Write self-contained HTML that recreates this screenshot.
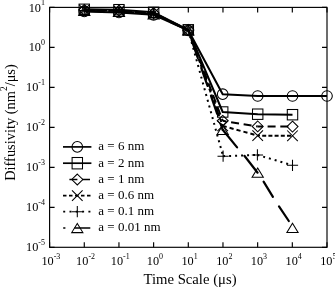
<!DOCTYPE html>
<html><head><meta charset="utf-8"><style>
html,body{margin:0;padding:0;background:#fff;}
body{width:335px;height:287px;overflow:hidden;}
svg{display:block;filter:blur(0.25px);}
text{font-family:"Liberation Serif",serif;fill:#000;}
.m{fill:none;stroke:#000;stroke-width:1.05;}
.ln{fill:none;stroke:#000;stroke-width:2.0;stroke-linejoin:round;}
.rc{stroke-linecap:round;stroke-width:2.2;}
.ax{fill:none;stroke:#000;stroke-width:1.15;}
</style></head><body>
<svg width="335" height="287" viewBox="0 0 335 287">

<rect x="49.6" y="7.4" width="277.40" height="239.90" class="ax"/>
<path d="M49.60 247.3v-5M49.60 7.4v5M84.28 247.3v-5M84.28 7.4v5M118.95 247.3v-5M118.95 7.4v5M153.62 247.3v-5M153.62 7.4v5M188.30 247.3v-5M188.30 7.4v5M222.97 247.3v-5M222.97 7.4v5M257.65 247.3v-5M257.65 7.4v5M292.32 247.3v-5M292.32 7.4v5M327.00 247.3v-5M327.00 7.4v5M49.6 247.30h5M327.0 247.30h-5M49.6 207.32h5M327.0 207.32h-5M49.6 167.33h5M327.0 167.33h-5M49.6 127.35h5M327.0 127.35h-5M49.6 87.37h5M327.0 87.37h-5M49.6 47.38h5M327.0 47.38h-5M49.6 7.40h5M327.0 7.40h-5" class="ax"/>
<text transform="translate(50.90,265.0) scale(1,1.07)" font-size="12.3" text-anchor="middle">10<tspan font-size="8" dy="-6.0">-3</tspan></text>
<text transform="translate(85.58,265.0) scale(1,1.07)" font-size="12.3" text-anchor="middle">10<tspan font-size="8" dy="-6.0">-2</tspan></text>
<text transform="translate(120.25,265.0) scale(1,1.07)" font-size="12.3" text-anchor="middle">10<tspan font-size="8" dy="-6.0">-1</tspan></text>
<text transform="translate(154.93,265.0) scale(1,1.07)" font-size="12.3" text-anchor="middle">10<tspan font-size="8" dy="-6.0">0</tspan></text>
<text transform="translate(189.60,265.0) scale(1,1.07)" font-size="12.3" text-anchor="middle">10<tspan font-size="8" dy="-6.0">1</tspan></text>
<text transform="translate(224.28,265.0) scale(1,1.07)" font-size="12.3" text-anchor="middle">10<tspan font-size="8" dy="-6.0">2</tspan></text>
<text transform="translate(258.95,265.0) scale(1,1.07)" font-size="12.3" text-anchor="middle">10<tspan font-size="8" dy="-6.0">3</tspan></text>
<text transform="translate(293.62,265.0) scale(1,1.07)" font-size="12.3" text-anchor="middle">10<tspan font-size="8" dy="-6.0">4</tspan></text>
<text transform="translate(328.30,265.0) scale(1,1.07)" font-size="12.3" text-anchor="middle">10<tspan font-size="8" dy="-6.0">5</tspan></text>
<text transform="translate(45.0,251.40) scale(1,1.08)" font-size="12.3" text-anchor="end">10<tspan font-size="8" dy="-5.6">-5</tspan></text>
<text transform="translate(45.0,211.42) scale(1,1.08)" font-size="12.3" text-anchor="end">10<tspan font-size="8" dy="-5.6">-4</tspan></text>
<text transform="translate(45.0,171.43) scale(1,1.08)" font-size="12.3" text-anchor="end">10<tspan font-size="8" dy="-5.6">-3</tspan></text>
<text transform="translate(45.0,131.45) scale(1,1.08)" font-size="12.3" text-anchor="end">10<tspan font-size="8" dy="-5.6">-2</tspan></text>
<text transform="translate(45.0,91.47) scale(1,1.08)" font-size="12.3" text-anchor="end">10<tspan font-size="8" dy="-5.6">-1</tspan></text>
<text transform="translate(45.0,51.48) scale(1,1.08)" font-size="12.3" text-anchor="end">10<tspan font-size="8" dy="-5.6">0</tspan></text>
<text transform="translate(45.0,11.50) scale(1,1.08)" font-size="12.3" text-anchor="end">10<tspan font-size="8" dy="-5.6">1</tspan></text>
<text transform="translate(143.5,284.1) scale(1,1.05)" font-size="14.7">Time Scale (μs)</text>
<text transform="translate(14.6,180.8) rotate(-90)" font-size="14.4">Diffusivity (nm<tspan font-size="9.5" dy="-7.5">2</tspan><tspan dy="7.5">/μs)</tspan></text>
<polyline points="84.28,10.80 118.95,11.80 153.62,14.30 188.30,30.40 222.70,129.80" class="ln rc" stroke-dasharray="19 10.5"/>
<path d="M222.70 129.80L237.10 147.40M244.40 155.80L257.60 172.70M263.60 181.60L272.90 196.90M279.00 206.40L288.80 221.00" class="ln rc"/>
<polyline points="84.28,10.40 118.95,11.30 153.62,13.80 188.30,30.20 223.10,156.20" class="ln" stroke-dasharray="2 4"/>
<line x1="223.10" y1="156.20" x2="257.40" y2="154.90" class="ln" stroke-dasharray="2 4" stroke-dashoffset="0.0"/>
<line x1="257.40" y1="154.90" x2="292.50" y2="165.30" class="ln" stroke-dasharray="2 4" stroke-dashoffset="0.0"/>
<polyline points="84.28,10.00 118.95,10.90 153.62,13.30 188.30,30.10 222.70,125.90" class="ln" stroke-dasharray="4 2.3"/>
<line x1="222.70" y1="125.90" x2="257.70" y2="135.60" class="ln" stroke-dasharray="4.2 3.0" stroke-dashoffset="0.1"/>
<line x1="257.70" y1="135.60" x2="292.50" y2="135.80" class="ln" stroke-dasharray="4 2.2" stroke-dashoffset="1.7"/>
<polyline points="84.28,9.80 118.95,10.60 153.62,13.00 188.30,30.00 222.70,120.80" class="ln" stroke-dasharray="8 4.7"/>
<line x1="222.70" y1="120.80" x2="257.70" y2="126.40" class="ln" stroke-dasharray="8 4.7" stroke-dashoffset="4.2"/>
<line x1="257.70" y1="126.40" x2="292.50" y2="126.60" class="ln" stroke-dasharray="8 4.7" stroke-dashoffset="2.8"/>
<polyline points="84.28,9.30 118.95,9.70 153.62,12.30 188.30,29.80 222.70,112.00 257.70,114.20 292.50,114.70" class="ln"/>
<polyline points="84.28,11.40 118.95,12.50 153.62,14.80 188.30,30.30 222.70,94.20 257.70,96.00 292.50,96.00 327.00,96.00" class="ln"/>
<path d="M84.28 6.20L89.88 15.40L78.68 15.40Z" class="m"/>
<path d="M118.95 7.20L124.55 16.40L113.35 16.40Z" class="m"/>
<path d="M153.62 9.70L159.22 18.90L148.03 18.90Z" class="m"/>
<path d="M188.30 25.80L193.90 35.00L182.70 35.00Z" class="m"/>
<path d="M222.70 125.20L228.30 134.40L217.10 134.40Z" class="m"/>
<path d="M257.70 168.10L263.30 177.30L252.10 177.30Z" class="m"/>
<path d="M292.50 223.20L298.10 232.40L286.90 232.40Z" class="m"/>
<path d="M78.68 10.40H89.88M84.28 4.80V16.00" class="m"/>
<path d="M113.35 11.30H124.55M118.95 5.70V16.90" class="m"/>
<path d="M148.03 13.80H159.22M153.62 8.20V19.40" class="m"/>
<path d="M182.70 30.20H193.90M188.30 24.60V35.80" class="m"/>
<path d="M217.50 156.20H228.70M223.10 150.60V161.80" class="m"/>
<path d="M251.80 154.90H263.00M257.40 149.30V160.50" class="m"/>
<path d="M286.90 165.30H298.10M292.50 159.70V170.90" class="m"/>
<path d="M78.98 4.70L89.58 15.30M89.58 4.70L78.98 15.30" class="m"/>
<path d="M113.65 5.60L124.25 16.20M124.25 5.60L113.65 16.20" class="m"/>
<path d="M148.32 8.00L158.93 18.60M158.93 8.00L148.32 18.60" class="m"/>
<path d="M183.00 24.80L193.60 35.40M193.60 24.80L183.00 35.40" class="m"/>
<path d="M217.40 120.60L228.00 131.20M228.00 120.60L217.40 131.20" class="m"/>
<path d="M252.40 130.30L263.00 140.90M263.00 130.30L252.40 140.90" class="m"/>
<path d="M287.20 130.50L297.80 141.10M297.80 130.50L287.20 141.10" class="m"/>
<path d="M84.28 4.40L89.78 9.80L84.28 15.20L78.78 9.80Z" class="m"/>
<path d="M118.95 5.20L124.45 10.60L118.95 16.00L113.45 10.60Z" class="m"/>
<path d="M153.62 7.60L159.12 13.00L153.62 18.40L148.12 13.00Z" class="m"/>
<path d="M188.30 24.60L193.80 30.00L188.30 35.40L182.80 30.00Z" class="m"/>
<path d="M222.70 115.40L228.20 120.80L222.70 126.20L217.20 120.80Z" class="m"/>
<path d="M257.70 121.00L263.20 126.40L257.70 131.80L252.20 126.40Z" class="m"/>
<path d="M292.50 121.20L298.00 126.60L292.50 132.00L287.00 126.60Z" class="m"/>
<rect x="79.08" y="4.10" width="10.4" height="10.4" class="m"/>
<rect x="113.75" y="4.50" width="10.4" height="10.4" class="m"/>
<rect x="148.43" y="7.10" width="10.4" height="10.4" class="m"/>
<rect x="183.10" y="24.60" width="10.4" height="10.4" class="m"/>
<rect x="217.50" y="106.80" width="10.4" height="10.4" class="m"/>
<rect x="252.50" y="109.00" width="10.4" height="10.4" class="m"/>
<rect x="287.30" y="109.50" width="10.4" height="10.4" class="m"/>
<circle cx="84.28" cy="11.40" r="5.3" class="m"/>
<circle cx="118.95" cy="12.50" r="5.3" class="m"/>
<circle cx="153.62" cy="14.80" r="5.3" class="m"/>
<circle cx="188.30" cy="30.30" r="5.3" class="m"/>
<circle cx="222.70" cy="94.20" r="5.3" class="m"/>
<circle cx="257.70" cy="96.00" r="5.3" class="m"/>
<circle cx="292.50" cy="96.00" r="5.3" class="m"/>
<circle cx="327.00" cy="96.00" r="5.3" class="m"/>
<path d="M63 146.90H91.4" class="ln" style="stroke-width:1.7"/>
<circle cx="77.30" cy="146.90" r="5.3" class="m"/>
<text x="98.3" y="150.20" font-size="13">a = 6 nm</text>
<path d="M63 163.20H91.4" class="ln" style="stroke-width:1.7"/>
<rect x="72.10" y="157.50" width="10.4" height="11.4" class="m"/>
<text x="98.3" y="166.50" font-size="13">a = 2 nm</text>
<path d="M69.4 179.50H77.4M82.2 179.50H90" class="ln" style="stroke-width:1.7"/>
<path d="M77.30 174.10L82.80 179.50L77.30 184.90L71.80 179.50Z" class="m"/>
<text x="98.3" y="182.80" font-size="13">a = 1 nm</text>
<path d="M63 195.60H91.4" class="ln" stroke-dasharray="3.5 2.5" style="stroke-width:1.7"/>
<path d="M72.00 190.30L82.60 200.90M82.60 190.30L72.00 200.90" class="m"/>
<text x="98.3" y="198.90" font-size="13">a = 0.6 nm</text>
<path d="M63.2 211.70H91.4" class="ln" stroke-dasharray="2 4.3" style="stroke-width:1.7"/>
<path d="M71.70 211.70H82.90M77.30 206.10V217.30" class="m"/>
<text x="98.3" y="215.00" font-size="13">a = 0.1 nm</text>
<path d="M63.2 228.00H65.4M74.4 228.00H90.3" class="ln" style="stroke-width:1.7"/>
<path d="M77.30 223.40L82.90 232.60L71.70 232.60Z" class="m"/>
<text x="98.3" y="231.30" font-size="13">a = 0.01 nm</text>
</svg></body></html>
